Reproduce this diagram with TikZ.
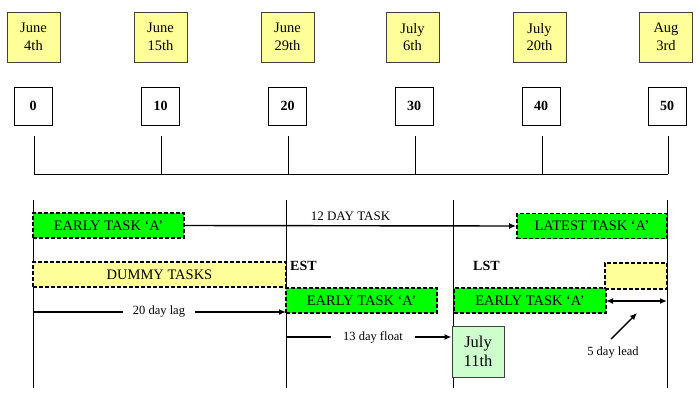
\documentclass[tikz,border=0pt]{standalone}
\usepackage{fontspec}
\setmainfont{Liberation Serif}
\usetikzlibrary{arrows.meta}
\definecolor{dateyellow}{HTML}{FFFF99}
\definecolor{taskgreen}{HTML}{00FF00}
\definecolor{lightgreen}{HTML}{CCFFCC}
\begin{document}
\begin{tikzpicture}[x=1pt,y=-1pt,
  datebox/.style={draw=black!75,line width=1pt,fill=dateyellow,minimum width=53pt,minimum height=50pt,inner sep=0pt,align=center,font=\fontsize{14.5}{17.5}\selectfont},
  numbox/.style={draw=black,line width=0.8pt,fill=white,minimum width=38pt,minimum height=38pt,inner sep=0pt,font=\fontsize{14}{16}\selectfont\bfseries},
  taskbox/.style={draw=black,line width=1.8pt,dash pattern=on 4pt off 2pt,fill=taskgreen,minimum height=25pt,inner sep=0pt,font=\fontsize{14.5}{16}\selectfont},
  dummybox/.style={taskbox,fill=dateyellow},
  axis/.style={line width=0.8pt},
  conn/.style={line width=1.4pt,-{Latex[length=7pt,width=6pt]}},
  lbl/.style={font=\fontsize{12.5}{14}\selectfont,inner sep=1pt},
  gaplbl/.style={lbl,fill=white,inner xsep=8pt},
  bold/.style={font=\fontsize{14}{16}\selectfont\bfseries,inner sep=0pt}
]
\useasboundingbox (0,0) rectangle (700,407);
% date boxes
\node[datebox] (d0) at (33.5,37) {June\\4th};
\node[datebox] (d1) at (160.5,37) {June\\15th};
\node[datebox] (d2) at (287.5,37) {June\\29th};
\node[datebox] (d3) at (412.5,37) {July\\6th};
\node[datebox] (d4) at (539.5,37) {July\\20th};
\node[datebox] (d5) at (666,37) {Aug\\3rd};
% number boxes
\node[numbox] (n0) at (33,106) {0};
\node[numbox] (n1) at (160.5,106) {10};
\node[numbox] (n2) at (287.5,106) {20};
\node[numbox] (n3) at (414,106) {30};
\node[numbox] (n4) at (541,106) {40};
\node[numbox] (n5) at (667,106) {50};
% axis
\foreach \i/\x in {0/34,1/161,2/288,3/415,4/542,5/668}{
  \coordinate (t\i) at (\x,136);
  \coordinate (b\i) at (\x,174);
  \draw[axis] (t\i) -- (b\i);
}
\draw[axis] (b0) -- (b5);
% lower vertical lines
\foreach \i/\x in {0/33,1/286,2/453,3/667}{
  \coordinate (vt\i) at (\x,200);
  \coordinate (vb\i) at (\x,388);
  \draw[axis] (vt\i) -- (vb\i);
}
% tasks
\node[taskbox,minimum width=151pt] (eta1) at (108.5,225.5) {EARLY TASK ‘A’};
\node[taskbox,minimum width=150pt] (lta) at (592,226) {LATEST TASK ‘A’};
\node[dummybox,minimum width=253pt] (dummy) at (159.5,274.5) {DUMMY TASKS};
\node[taskbox,minimum width=151pt] (eta2) at (361.5,300.5) {EARLY TASK ‘A’};
\node[taskbox,minimum width=152pt] (eta3) at (530,300.5) {EARLY TASK ‘A’};
\node[dummybox,minimum width=62pt,minimum height=26pt] (ybox) at (636,276) {};
\node[draw=black!75,line width=1pt,fill=lightgreen,minimum width=52pt,minimum height=51pt,inner sep=0pt,align=center,font=\fontsize{16.5}{19.5}\selectfont] (j11) at (478,351.5) {July\\11th};
% labels
\node[bold,anchor=west] (est) at (290,266) {EST};
\node[bold,anchor=west] (lst) at (473,266) {LST};
% 12 day task
\draw[conn] (eta1.east) -- (lta.west) node[lbl,midway,above=3pt,font=\fontsize{13}{15}\selectfont] (l12) {12 DAY TASK};
% 20 day lag
\coordinate (lagS) at (33,312);
\coordinate (lagE) at (286,312);
\draw[conn] (lagS) -- (lagE);
\node[gaplbl,inner xsep=10pt] (l20) at (159,312) {20 day lag};
% 13 day float
\coordinate (flS) at (286,337);
\draw[conn] (flS) -- (flS -| j11.west);
\node[gaplbl,inner xsep=12pt] (l13) at (373,337) {13 day float};
% double arrow
\coordinate (da1) at (606,301);
\coordinate (da2) at (667,301);
\draw[line width=1.4pt,{Latex[length=7pt,width=6pt]}-{Latex[length=7pt,width=6pt]}] (da1) -- (da2);
% 5 day lead
\coordinate (ldS) at (611,339);
\coordinate (ldE) at (637,313);
\draw[conn] (ldS) -- (ldE);
\node[lbl] (l5) at (613,353) {5 day lead};
\end{tikzpicture}
\end{document}
